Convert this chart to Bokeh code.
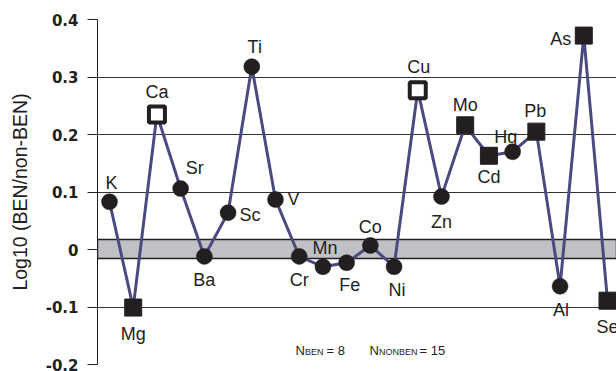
from bokeh.plotting import figure
from bokeh.models import (ColumnDataSource, Range1d, FixedTicker, CustomJSTickFormatter,
                          BoxAnnotation, Label)
from bokeh.embed import file_html
from bokeh.resources import INLINE

# ---- data ----
elements = ["K", "Mg", "Ca", "Sr", "Ba", "Sc", "Ti", "V", "Cr", "Mn", "Fe",
            "Co", "Ni", "Cu", "Zn", "Mo", "Cd", "Hg", "Pb", "Al", "As", "Se"]
log_ratio = [0.083, -0.101, 0.235, 0.106, -0.012, 0.064, 0.318, 0.087, -0.012, -0.030, -0.023,
             0.007, -0.030, 0.277, 0.092, 0.216, 0.163, 0.170, 0.205, -0.064, 0.372, -0.089]
marker_kind = ["circle", "fsq", "osq", "circle", "circle", "circle", "circle", "circle", "circle",
               "circle", "circle", "circle", "circle", "osq", "circle", "fsq", "fsq", "circle",
               "fsq", "circle", "fsq", "fsq"]
band_low, band_high = -0.0157, 0.0174
y_ticks = [-0.2, -0.1, 0.0, 0.1, 0.2, 0.3, 0.4]
n_ben, n_nonben = 8, 15

# label placement (pixel offsets, styling only)
lab_dx = [2, 0, 0, 14, 0, 22, 3, 18, 0, 2, 3, 0, 3, 1, 0, 0, 0, -7, -1, 1, -23, 0]
lab_dy = [-19, 26, -22, -21, 24, 2, -20, 0, 24, -19, 22, -18, 23, -23, 25, -20, 21, -15, -21, 24, 3, 26]

idx = list(range(len(elements)))

INK = "#231f20"
LINE = "#4a4a80"

p = figure(width=616, height=371, output_backend="svg", toolbar_location=None,
           x_range=Range1d(-0.506, 21.38), y_range=Range1d(-0.2, 0.4),
           min_border_left=97, min_border_right=0, min_border_top=19, min_border_bottom=7)
p.outline_line_color = None
p.xaxis.visible = False
p.xgrid.visible = False
p.background_fill_color = "white"
p.border_fill_color = "white"

# y axis
p.yaxis.ticker = FixedTicker(ticks=y_ticks)
p.yaxis.formatter = CustomJSTickFormatter(code="""
    if (Math.abs(tick) < 1e-9) return "0";
    return tick.toFixed(1);
""")
p.yaxis.major_label_text_font = "DejaVu Sans"
p.yaxis.major_label_text_font_style = "bold"
p.yaxis.major_label_text_font_size = "15px"
p.yaxis.major_label_text_color = INK
p.yaxis.major_label_standoff = 9
p.yaxis.major_tick_out = 10
p.yaxis.major_tick_in = 0
p.yaxis.minor_tick_line_color = None
p.yaxis.axis_line_color = INK
p.yaxis.major_tick_line_color = INK
p.yaxis.axis_label = "Log10 (BEN/non-BEN)"
p.yaxis.axis_label_text_font = "Liberation Sans"
p.yaxis.axis_label_text_font_style = "normal"
p.yaxis.axis_label_text_font_size = "19.5px"
p.yaxis.axis_label_text_color = INK
p.yaxis.axis_label_standoff = 12

p.ygrid.ticker = FixedTicker(ticks=[t for t in y_ticks if abs(t) > 1e-9])
p.ygrid.grid_line_color = "#333333"
p.ygrid.grid_line_width = 1

band = BoxAnnotation(bottom=band_low, top=band_high, fill_color="#c0c1c5", fill_alpha=1.0,
                     line_color=INK, line_alpha=1.0, line_width=1.5, level="underlay")
p.add_layout(band)

src = ColumnDataSource(dict(x=idx, y=log_ratio, name=elements, kind=marker_kind,
                            dx=lab_dx, dy=lab_dy))

p.line("x", "y", source=src, line_color=LINE, line_width=3)

def subset(kind):
    ii = [i for i, k in enumerate(marker_kind) if k == kind]
    return ColumnDataSource(dict(x=[idx[i] for i in ii], y=[log_ratio[i] for i in ii]))

p.scatter("x", "y", source=subset("circle"), marker="circle", size=16,
          fill_color=INK, line_color=INK, line_width=0.5)
p.scatter("x", "y", source=subset("fsq"), marker="square", size=17,
          fill_color=INK, line_color=INK, line_width=1)
p.scatter("x", "y", source=subset("osq"), marker="square", size=16,
          fill_color="white", line_color=INK, line_width=4)

p.text("x", "y", text="name", source=src, x_offset="dx", y_offset="dy",
       text_align="center", text_baseline="middle", text_font_size="18px",
       text_color=INK, text_font={"value": "Liberation Sans"})

# N annotation
ny = -0.1751
nx = 7.845
common = dict(x=nx, y=ny, text_font="Liberation Sans", text_color=INK,
              text_baseline="alphabetic")
parts = [("N", 0, 0, "13px"), ("BEN", 9.5, -2, "9px"), ("= " + str(n_ben), 31, 0, "13px"),
         ("N", 74, 0, "13px"), ("NONBEN", 83.5, -2, "9px"), ("= " + str(n_nonben), 124, 0, "13px")]
for t, ox, oy, fs in parts:
    p.add_layout(Label(text=t, x_offset=ox, y_offset=oy, text_font_size=fs, **common))

open("out.html", "w").write(file_html(p, INLINE))
